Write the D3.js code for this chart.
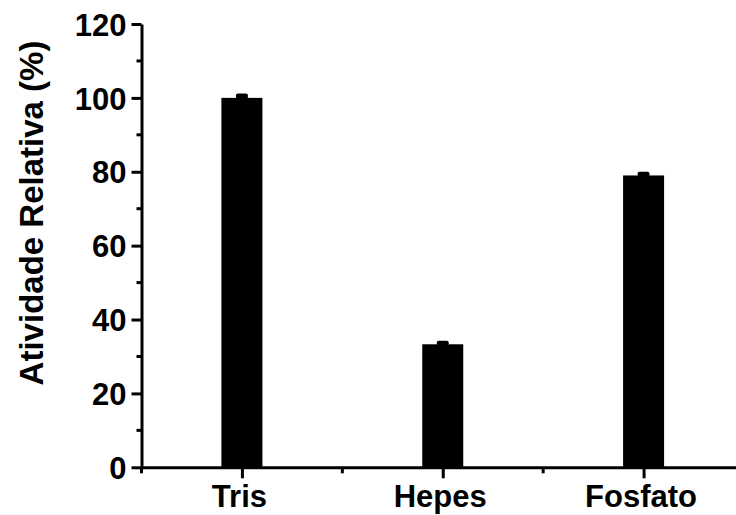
<!DOCTYPE html>
<html>
<head>
<meta charset="utf-8">
<script src="https://cdn.jsdelivr.net/npm/d3@7"></script>
<style>
  html, body { margin: 0; padding: 0; background: #fff; }
  svg { display: block; }
  text { font-family: "Liberation Sans", Arial, sans-serif; font-weight: bold; fill: #000; }
</style>
</head>
<body>
<svg id="chart" width="736" height="515"></svg>
<script>
// Relative activity of the enzyme in each buffer
const buffers = ["Tris", "Hepes", "Fosfato"];
const activity = [100, 33.3, 79.0];
const activityErr = [0.9, 0.7, 0.7];
const yTicks = [0, 20, 40, 60, 80, 100, 120];
const yMinorTicks = [10, 30, 50, 70, 90, 110];
const yLabel = "Atividade Relativa (%)";

const svg = d3.select("#chart");

// Buffers sit at positions 1..3 on a linear axis
const x = d3.scaleLinear().domain([0.5, 3.5]).range([141.5, 744]);
const y = d3.scaleLinear().domain([0, 120]).range([467.3, 24]);

const barW = 41;
const axisW = 3;

// Bars
svg.append("g")
  .selectAll("rect")
  .data(buffers)
  .join("rect")
  .attr("x", (d, i) => x(i + 1) - barW / 2)
  .attr("y", (d, i) => y(activity[i]))
  .attr("width", barW)
  .attr("height", (d, i) => y(0) - y(activity[i]))
  .attr("fill", "#000");

// Error bars: upper whisker with a short cap, drawn as a small rounded block
svg.append("g")
  .selectAll("rect")
  .data(buffers)
  .join("rect")
  .attr("x", (d, i) => x(i + 1) - 6)
  .attr("y", (d, i) => y(activity[i] + activityErr[i]) - 1)
  .attr("width", 12)
  .attr("height", (d, i) => y(activity[i]) - y(activity[i] + activityErr[i]) + 2)
  .attr("rx", 2)
  .attr("fill", "#000");

// Y axis
const yAxis = svg.append("g")
  .attr("transform", `translate(${x(0.5)},0)`)
  .call(d3.axisLeft(y).tickValues(yTicks).tickSize(10).tickPadding(5).tickSizeOuter(0));
yAxis.selectAll(".tick text").attr("font-size", 31).attr("dy", "0.36em");
yAxis.append("g")
  .selectAll("line")
  .data(yMinorTicks)
  .join("line")
  .attr("x1", -5).attr("x2", 0)
  .attr("y1", d => y(d)).attr("y2", d => y(d));

// X axis
const xAxis = svg.append("g")
  .attr("transform", `translate(0,${y(0)})`)
  .call(d3.axisBottom(x).tickValues([1, 2, 3]).tickFormat((d) => buffers[d - 1])
    .tickSize(11).tickPadding(5).tickSizeOuter(0));
xAxis.selectAll(".tick text").attr("font-size", 31).attr("dy", "0.78em").attr("dx", -3);
xAxis.append("g")
  .selectAll("line")
  .data([0.5, 1.5, 2.5, 3.5])
  .join("line")
  .attr("x1", d => x(d)).attr("x2", d => x(d))
  .attr("y1", 0).attr("y2", 6);

[yAxis, xAxis].forEach(g => {
  g.selectAll("path.domain").attr("stroke", "#000").attr("stroke-width", axisW);
  g.selectAll("line").attr("stroke", "#000").attr("stroke-width", axisW);
  g.attr("font-family", null).attr("font-size", null);
});

// Y axis title
svg.append("text")
  .attr("transform", `translate(43,${213}) rotate(-90)`)
  .attr("text-anchor", "middle")
  .attr("font-size", 33)
  .text(yLabel);
</script>
</body>
</html>
